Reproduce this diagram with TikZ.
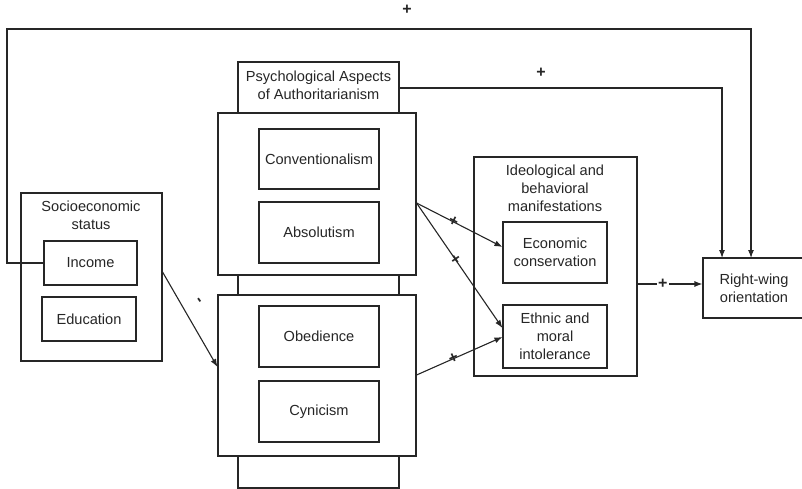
\documentclass[tikz,border=0pt]{standalone}
\usepackage{fontspec}
\setmainfont{Liberation Sans}
\usetikzlibrary{arrows.meta}
\begin{document}
\begin{tikzpicture}[x=1pt,y=-1pt,
  every node/.style={font=\fontsize{14.6}{18}\selectfont, text=black!85},
  box/.style={draw=black!85, line width=1.1pt, fill=white, inner sep=0pt, align=center},
  lbl/.style={inner sep=0pt, align=center},
  arr/.style={draw=black!85, line width=1.1pt, -{Latex[length=8pt,width=6pt]}},
  sgn/.style={inner sep=0pt, font=\fontsize{16}{16}\selectfont\bfseries}]
\useasboundingbox (0,0) rectangle (802,489);
% psychological aspects column
\node[box, minimum width=161pt, minimum height=426pt] (psy) at (318.5,275) {};
\node[lbl] (psyt) at (318.5,85) {Psychological Aspects\\of Authoritarianism};
\node[box, minimum width=198pt, minimum height=162pt] (b1) at (317,194) {};
\node[box, minimum width=198pt, minimum height=161pt] (b2) at (317,375.5) {};
\node[box, minimum width=120pt, minimum height=60pt] (conv) at (319,159) {Conventionalism};
\node[box, minimum width=120pt, minimum height=61pt] (abs) at (319,232.5) {Absolutism};
\node[box, minimum width=120pt, minimum height=61pt] (obe) at (319,336.5) {Obedience};
\node[box, minimum width=120pt, minimum height=61pt] (cyn) at (319,411.5) {Cynicism};
% socioeconomic status
\node[box, minimum width=141pt, minimum height=168pt] (ses) at (91.5,277) {};
\node[lbl] (sest) at (91,215) {Socioeconomic\\status};
\node[box, minimum width=93pt, minimum height=44pt] (inc) at (90.5,263) {Income};
\node[box, minimum width=94pt, minimum height=44pt] (edu) at (89,319) {Education};
% ideological
\node[box, minimum width=163pt, minimum height=219pt] (ide) at (555.5,266.5) {};
\node[lbl] (idet) at (555,188) {Ideological and\\behavioral\\manifestations};
\node[box, minimum width=104pt, minimum height=61pt] (eco) at (555,252.5) {Economic\\conservation};
\node[box, minimum width=104pt, minimum height=63pt] (eth) at (555,336.5) {Ethnic and\\moral\\intolerance};
% right-wing
\node[box, minimum width=102pt, minimum height=60pt] (rw) at (754,288) {Right-wing\\orientation};
% connectors
\coordinate (c1) at (7,29);
\coordinate (rwin1) at (751,258);
\coordinate (rwin2) at (722,258);
\coordinate (p1) at (399,88);
\draw[arr] (inc.west) -| (c1) -| (rwin1);
\node[sgn] (s0) at (407,10) {+};
\draw[arr] (p1) -| (rwin2);
\node[sgn] (s1) at (541,73) {+};
\draw[arr] (ses.east |- 0,272) -- (b2.west |- 0,367);
\node[sgn, rotate=-55] (sm) at (198,301) {-};
\draw[arr] (b1.east |- 0,203) -- (eco.west |- 0,247)
  node[sgn, pos=0.43, sloped] {+};
\draw[arr] (b1.east |- 0,203) -- (eth.west |- 0,328)
  node[sgn, pos=0.45, sloped] {+};
\draw[arr] (b2.east |- 0,375) -- (eth.west |- 0,337)
  node[sgn, pos=0.43, sloped] {+};
\draw[arr] (ide.east |- 0,284) -- (rw.west |- 0,284)
  node[sgn, pos=0.39, fill=white, inner xsep=1pt] {+};
\end{tikzpicture}
\end{document}
